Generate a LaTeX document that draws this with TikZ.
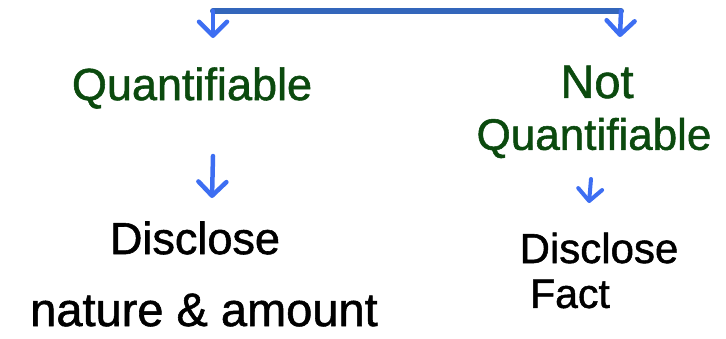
\documentclass[tikz,border=0pt]{standalone}
\usepackage{fontspec}
\setmainfont{Liberation Sans}[FakeBold=1.2]
\usetikzlibrary{arrows.meta}
\definecolor{hwgreen}{HTML}{0B4A0E}
\definecolor{barblue}{HTML}{3366BB}
\definecolor{arrblue}{HTML}{3D6EF2}
\tikzset{
  hw/.style={inner sep=0pt, anchor=center},
  greentext/.style={hw, text=hwgreen},
  blacktext/.style={hw, text=black},
  bar/.style={draw=barblue, line width=6pt, line cap=round},
  downarrow/.style={draw=arrblue, line width=4.5pt, line cap=round,
    -{Straight Barb[length=14pt, width=28pt, line width=4.5pt, round]}},
  smallarrow/.style={draw=arrblue, line width=4pt, line cap=round,
    -{Straight Barb[length=12pt, width=24pt, line width=4pt, round]}},
}
\begin{document}
\begin{tikzpicture}[x=1pt, y=-1pt]
\useasboundingbox (0,0) rectangle (726,338);
% top bar
\coordinate (tl) at (213,11);
\coordinate (tr) at (621,11);
\coordinate (tlend) at (213,38);
\coordinate (trend) at (620,37);
\path[bar] (tl) -- (tr);
\path[downarrow] (tl) -- (tlend);
\path[downarrow] (tr) -- (trend);
% left branch
\node[greentext, font=\fontsize{45}{50}\selectfont] (q1) at (192,88) {Quantifiable};
\coordinate (a1s) at (213,156);
\coordinate (a1e) at (212,198);
\path[downarrow] (a1s) -- (a1e);
\node[blacktext, font=\fontsize{45}{50}\selectfont] (d1) at (195,238) {Disclose};
\node[blacktext, font=\fontsize{47}{52}\selectfont] (n1) at (204,310) {nature \& amount};
% right branch
\node[greentext, font=\fontsize{47}{52}\selectfont] (not) at (597,82) {Not};
\node[greentext, font=\fontsize{44}{50}\selectfont] (q2) at (594,138) {Quantifiable};
\coordinate (a2s) at (591,179);
\coordinate (a2e) at (589,203);
\path[smallarrow] (a2s) -- (a2e);
\node[blacktext, font=\fontsize{42}{48}\selectfont] (d2) at (599,248) {Disclose};
\node[blacktext, font=\fontsize{41}{46}\selectfont] (f2) at (570,294) {Fact};
\end{tikzpicture}
\end{document}
